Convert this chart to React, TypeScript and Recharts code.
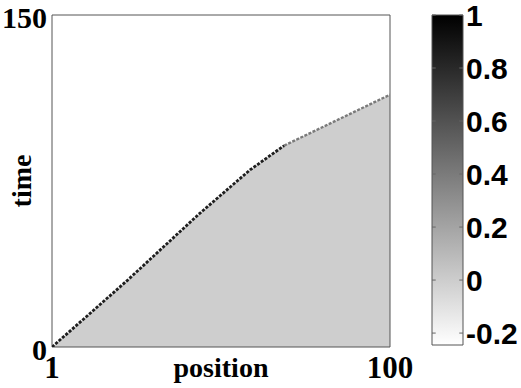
import React from 'react';
import {
  ComposedChart,
  Area,
  Line,
  XAxis,
  YAxis,
  ReferenceArea,
  ReferenceLine,
  Label,
} from 'recharts';

// front position (cell index) vs time where the grey region ends
const positions = [1, 23, 44, 59, 69, 100];
const frontTime = [0, 30, 60, 80, 91, 114];
const kinkPosition = 69;

const xTicks = [1, 100];
const yTicks = [0, 150];

const colorTicks = [-0.2, 0, 0.2, 0.4, 0.6, 0.8, 1];
const colorMin = -0.245;
const colorMax = 1;

const data = positions.map((p, i) => ({
  pos: p,
  time: frontTime[i],
  steep: p <= kinkPosition ? frontTime[i] : null,
  shallow: p >= kinkPosition ? frontTime[i] : null,
}));

const barData = [
  { x: 0, v: colorMin },
  { x: 1, v: colorMax },
];

const serifFamily = '"Liberation Serif", "Times New Roman", serif';
const tickFont = { fontFamily: serifFamily, fontWeight: 700, fontSize: 31, fill: '#000' };
const yTickFont = { ...tickFont, fontSize: 30, dy: 2 };
const labelFont = { fontFamily: serifFamily, fontWeight: 700, fontSize: 28, fill: '#000' };
const sans = { fontFamily: '"Liberation Sans", Arial, sans-serif', fontWeight: 700, fontSize: 30, fill: '#000' };

const fmtColor = (v: number) => {
  if (v === 0) return '0';
  if (v === 1) return '1';
  return v.toFixed(1);
};

export default function App() {
  return (
    <div style={{ position: 'absolute', left: 0, top: 0, width: 521, height: 388, background: '#fff' }}>
      <div style={{ position: 'absolute', left: 0, top: 0 }}>
        <ComposedChart width={430} height={388} data={data} margin={{ top: 15, right: 40, bottom: 0, left: 0 }}>
          <XAxis
            dataKey="pos"
            type="number"
            domain={[1, 100]}
            ticks={xTicks}
            interval={0}
            height={41}
            axisLine={false}
            tickLine={false}
            tickSize={4}
            tickMargin={5}
            tick={tickFont}
            allowDataOverflow
          >
            <Label value="position" position="insideBottom" offset={11} style={labelFont} />
          </XAxis>
          <YAxis
            type="number"
            domain={[0, 150]}
            ticks={yTicks}
            interval={0}
            width={52}
            axisLine={false}
            tickLine={false}
            tickSize={2}
            tickMargin={3}
            tick={yTickFont}
            allowDataOverflow
          >
            <Label value="time" angle={-90} position="center" dx={-5} style={labelFont} />
          </YAxis>
          <Area
            type="linear"
            dataKey="time"
            stroke="none"
            fill="#cecece"
            fillOpacity={1}
            isAnimationActive={false}
          />
          <Line
            type="linear"
            dataKey="steep"
            stroke="#1e1e1e"
            strokeWidth={2.8}
            strokeDasharray="3 1.5"
            dot={false}
            connectNulls={false}
            isAnimationActive={false}
          />
          <Line
            type="linear"
            dataKey="shallow"
            stroke="#7a7a7a"
            strokeWidth={2.4}
            strokeDasharray="3 1.5"
            dot={false}
            connectNulls={false}
            isAnimationActive={false}
          />
          <ReferenceArea x1={1} x2={100} y1={0} y2={150} fill="none" stroke="#555" strokeWidth={1} />
        </ComposedChart>
      </div>
      <div style={{ position: 'absolute', left: 420, top: 0 }}>
        <ComposedChart width={101} height={388} data={barData} margin={{ top: 15, right: 0, bottom: 43, left: 12 }}>
          <defs>
            <linearGradient id="grayMap" x1="0" y1="0" x2="0" y2="1">
              <stop offset="0%" stopColor="#000" />
              <stop offset="100%" stopColor="#fff" />
            </linearGradient>
          </defs>
          <XAxis type="number" dataKey="x" domain={[0, 1]} hide />
          <YAxis
            type="number"
            orientation="right"
            domain={[colorMin, colorMax]}
            ticks={colorTicks}
            interval={0}
            tickFormatter={fmtColor}
            width={58}
            axisLine={false}
            tickLine={false}
            tickSize={0}
            tickMargin={3}
            tick={sans}
            allowDataOverflow
          />
          <Line dataKey="v" stroke="none" dot={false} isAnimationActive={false} />
          <ReferenceArea x1={0} x2={1} y1={colorMin} y2={colorMax} fill="url(#grayMap)" fillOpacity={1} stroke="#555" strokeWidth={1} ifOverflow="visible" />
          {colorTicks.map((t) => (
            <ReferenceLine key={'l' + t} segment={[{ x: 0, y: t }, { x: 0.12, y: t }]} stroke="#666" strokeWidth={1} />
          ))}
          {colorTicks.map((t) => (
            <ReferenceLine key={'r' + t} segment={[{ x: 0.88, y: t }, { x: 1, y: t }]} stroke="#666" strokeWidth={1} />
          ))}
        </ComposedChart>
      </div>
    </div>
  );
}
